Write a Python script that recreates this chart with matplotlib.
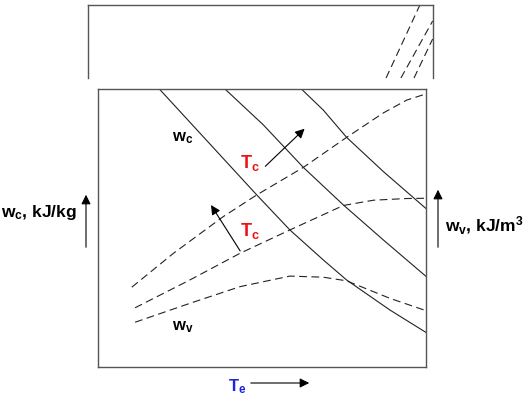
"""Schematic: compressor work w_c and volumetric work w_v vs evaporating temperature."""
import matplotlib
matplotlib.use("Agg")
import matplotlib.pyplot as plt

plt.rcParams["font.family"] = ["Liberation Sans", "DejaVu Sans"]
plt.rcParams["mathtext.fontset"] = "custom"
plt.rcParams["mathtext.rm"] = "Liberation Sans"
plt.rcParams["mathtext.bf"] = "Liberation Sans:bold"
plt.rcParams["mathtext.it"] = "Liberation Sans:italic"

# --- curve data (arbitrary units, 0..100 on both axes) ---
# w_c lines (solid), one per condensing temperature
wc1_x = [18.7, 31.1, 48.4, 58.5, 68.7, 75.8, 89.0, 99.9]
wc1_y = [100.0, 84.1, 61.9, 49.3, 38.5, 31.3, 20.5, 12.5]
wc2_x = [38.7, 50.4, 62.6, 74.8, 87.0, 99.9]
wc2_y = [100.0, 87.1, 71.8, 58.3, 45.7, 32.7]
wc3_x = [62.1, 68.7, 75.8, 87.0, 99.9]
wc3_y = [99.9, 92.4, 82.6, 70.3, 57.1]

# w_v curves (dashed)
wv1_x = [10.3, 23.0, 38.2, 48.4, 62.6, 75.8, 87.0, 94.1, 99.9]
wv1_y = [28.7, 40.9, 54.1, 61.9, 71.8, 82.6, 91.4, 96.0, 98.2]
wv2_x = [11.3, 28.0, 43.3, 58.5, 74.8, 84.0, 94.0, 99.9]
wv2_y = [21.3, 31.3, 40.9, 49.3, 58.1, 60.0, 60.6, 60.7]
wv3_x = [11.3, 28.0, 43.3, 58.5, 68.7, 75.8, 89.0, 99.9]
wv3_y = [16.1, 22.9, 28.9, 32.7, 32.3, 31.0, 24.7, 20.3]

# continuation of the w_v curves in the upper (zoomed-out) panel
up_x = [[86.4, 96.2], [90.7, 99.9], [94.5, 99.9]]
up_y = [[0.0, 100.0], [0.0, 78.1], [0.0, 53.4]]

W, H = 529, 404
fig = plt.figure(figsize=(W / 100, H / 100), dpi=100)


def box(x0, y0, x1, y1):
    # pixel box (top-left origin) -> figure fraction rect
    return [x0 / W, 1 - y1 / H, (x1 - x0) / W, (y1 - y0) / H]


spine_col = "#555555"
dash = (0, (7, 4))

ax = fig.add_axes(box(98, 89, 426, 367))
ax.set_xlim(0, 100)
ax.set_ylim(0, 100)
ax.set_xticks([])
ax.set_yticks([])
for s in ax.spines.values():
    s.set_color(spine_col)
    s.set_linewidth(1.0)

for xs, ys in [(wc1_x, wc1_y), (wc2_x, wc2_y), (wc3_x, wc3_y)]:
    ax.plot(xs, ys, color="#222222", lw=0.8)
for xs, ys in [(wv1_x, wv1_y), (wv2_x, wv2_y), (wv3_x, wv3_y)]:
    ax.plot(xs, ys, color="#222222", lw=0.8, ls=dash)

arrow = dict(arrowstyle="-|>", color="k", lw=0.8, mutation_scale=14)
ax.annotate("", xy=(63.6, 86.4), xytext=(50.4, 71.5), arrowprops=arrow)
ax.annotate("", xy=(34.0, 59.1), xytext=(43.8, 40.9), arrowprops=arrow)

ax.text(25.9, 82.4, r"$\mathbf{w}_{\mathbf{c}}$", fontsize=12, ha="center", va="center")
ax.text(25.9, 14.4, r"$\mathbf{w}_{\mathbf{v}}$", fontsize=12, ha="center", va="center")
ax.text(46.3, 73.4, r"$\mathbf{T}_{\mathbf{c}}$", fontsize=13, color="#ee1111",
        ha="center", va="center")
ax.text(46.3, 48.9, r"$\mathbf{T}_{\mathbf{c}}$", fontsize=13, color="#ee1111",
        ha="center", va="center")

# upper panel, open at the bottom
ax2 = fig.add_axes(box(88, 5, 433, 78))
ax2.set_xlim(0, 100)
ax2.set_ylim(0, 100)
ax2.set_xticks([])
ax2.set_yticks([])
ax2.spines["bottom"].set_visible(False)
for k in ("top", "left", "right"):
    ax2.spines[k].set_color(spine_col)
    ax2.spines[k].set_linewidth(1.0)
for xs, ys in zip(up_x, up_y):
    ax2.plot(xs, ys, color="#222222", lw=0.8, ls=dash, clip_on=False)

# axis arrows and labels in figure pixels
fig_arrow = dict(arrowstyle="-|>", color="k", lw=0.8, mutation_scale=14)
fig.add_artist(matplotlib.patches.FancyArrowPatch(
    (86 / W, 154 / H), (86 / W, 212 / H), transform=fig.transFigure, **fig_arrow))
fig.add_artist(matplotlib.patches.FancyArrowPatch(
    (438 / W, 154 / H), (438 / W, 217 / H), transform=fig.transFigure, **fig_arrow))
fig.add_artist(matplotlib.patches.FancyArrowPatch(
    (248 / W, 21 / H), (312 / W, 21 / H), transform=fig.transFigure, **fig_arrow))

fig.text(77 / W, 192 / H, r"$\mathbf{w}_{\mathbf{c}}$, kJ/kg", fontsize=12.5,
         fontweight="bold", ha="right", va="center")
fig.text(445 / W, 178 / H, r"$\mathbf{w}_{\mathbf{v}}$, kJ/m$^{\mathbf{3}}$", fontsize=12.5,
         fontweight="bold", ha="left", va="center")
fig.text(237 / W, 17 / H, r"$\mathbf{T}_{\mathbf{e}}$", fontsize=12, color="#2222dd",
         ha="center", va="center")

fig.savefig("out.png", dpi=100)
